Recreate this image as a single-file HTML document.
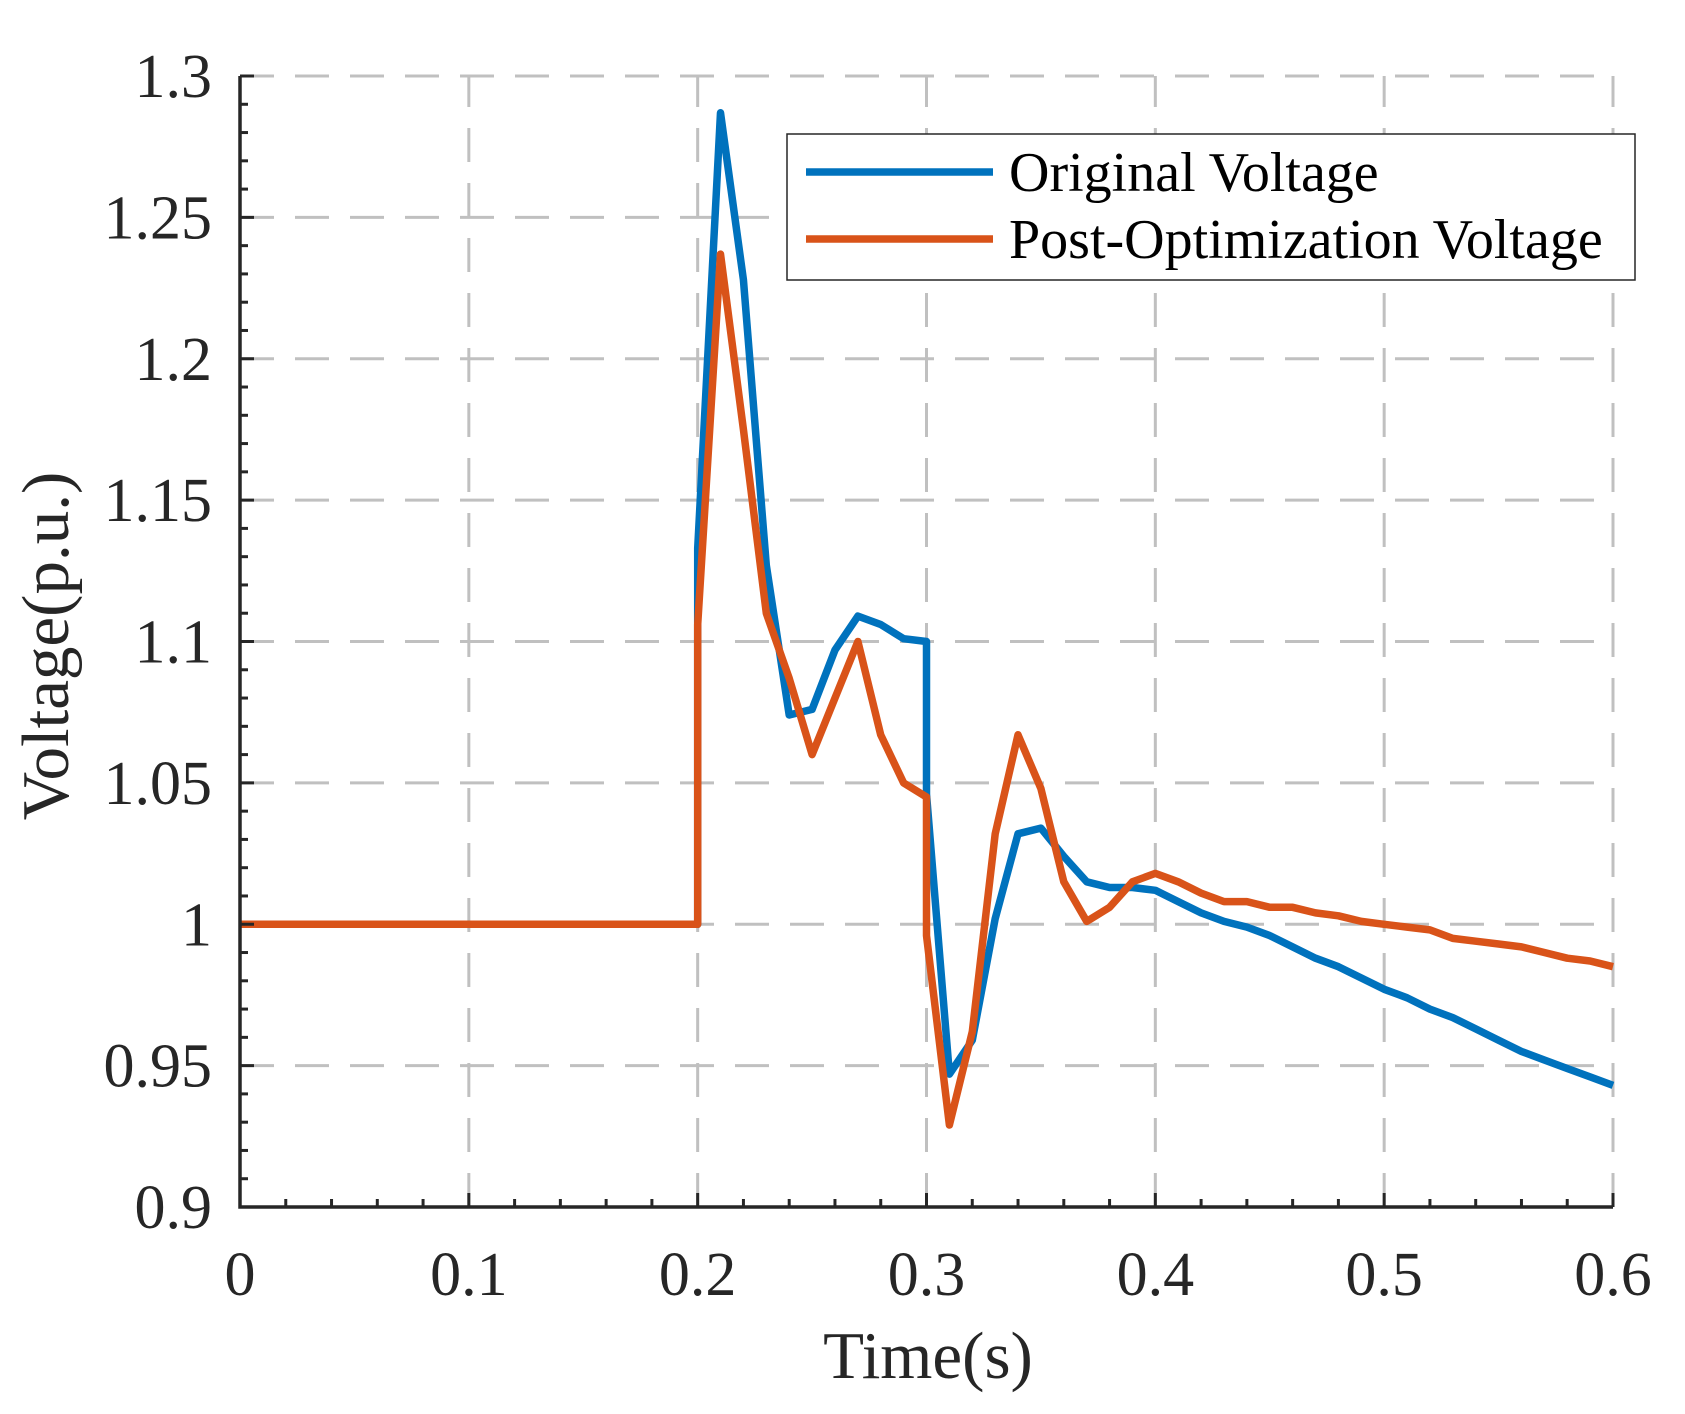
<!DOCTYPE html>
<html><head><meta charset="utf-8"><style>
html,body{margin:0;padding:0;background:#fff;}
svg{display:block;font-family:"Liberation Serif",serif;}
</style></head><body>
<svg id="chart" width="1685" height="1414" viewBox="0 0 1685 1414" xmlns="http://www.w3.org/2000/svg">
<g id="grid"></g>
<g id="series"></g>
<g id="axes"></g>
<text x="928" y="1378" font-size="67" text-anchor="middle" fill="#262626">Time(s)</text>
<text x="0" y="0" font-size="67" text-anchor="middle" fill="#262626" transform="translate(68,646) rotate(-90)">Voltage(p.u.)</text>
<g>
<rect x="787" y="134" width="848" height="146" fill="#fff" stroke="#262626" stroke-width="1.5"/>
<line x1="806" y1="172" x2="993" y2="172" stroke="#0072BD" stroke-width="7.5"/>
<text x="1009" y="191" font-size="56" fill="#000">Original Voltage</text>
<line x1="806" y1="239" x2="993" y2="239" stroke="#D95319" stroke-width="7.5"/>
<text x="1009" y="258" font-size="56" fill="#000">Post-Optimization Voltage</text>
</g>
</svg>
<script>
const xTicks=[0,0.1,0.2,0.3,0.4,0.5,0.6];
const xTickLabels=["0","0.1","0.2","0.3","0.4","0.5","0.6"];
const yTicks=[0.9,0.95,1,1.05,1.1,1.15,1.2,1.25,1.3];
const yTickLabels=["0.9","0.95","1","1.05","1.1","1.15","1.2","1.25","1.3"];
const originalTime=[0,0.2,0.2,0.21,0.22,0.23,0.24,0.25,0.26,0.27,0.28,0.29,0.30,0.30,0.31,0.32,0.33,0.34,0.35,0.36,0.37,0.38,0.39,0.40,0.41,0.42,0.43,0.44,0.45,0.46,0.47,0.48,0.49,0.50,0.51,0.52,0.53,0.54,0.55,0.56,0.57,0.58,0.59,0.60];
const originalVoltage=[1,1,1.133,1.287,1.228,1.127,1.074,1.076,1.097,1.109,1.106,1.101,1.100,1.046,0.947,0.959,1.002,1.032,1.034,1.024,1.015,1.013,1.013,1.012,1.008,1.004,1.001,0.999,0.996,0.992,0.988,0.985,0.981,0.977,0.974,0.970,0.967,0.963,0.959,0.955,0.952,0.949,0.946,0.943];
const optimizedTime=[0,0.2,0.2,0.21,0.22,0.23,0.24,0.25,0.26,0.27,0.28,0.29,0.30,0.30,0.31,0.32,0.33,0.34,0.35,0.36,0.37,0.38,0.39,0.40,0.41,0.42,0.43,0.44,0.45,0.46,0.47,0.48,0.49,0.50,0.51,0.52,0.53,0.54,0.55,0.56,0.57,0.58,0.59,0.60];
const optimizedVoltage=[1,1,1.106,1.237,1.175,1.110,1.087,1.060,1.080,1.100,1.067,1.050,1.045,0.996,0.929,0.962,1.032,1.067,1.048,1.015,1.001,1.006,1.015,1.018,1.015,1.011,1.008,1.008,1.006,1.006,1.004,1.003,1.001,1.000,0.999,0.998,0.995,0.994,0.993,0.992,0.990,0.988,0.987,0.985];

const L=240,R=1613,T=76,B=1207;
const X0=0,X1=0.6,Y0=0.9,Y1=1.3;
function sx(v){return L+(v-X0)/(X1-X0)*(R-L);}
function sy(v){return B-(v-Y0)/(Y1-Y0)*(B-T);}
const NS="http://www.w3.org/2000/svg";
function mk(tag,attrs,parent){const e=document.createElementNS(NS,tag);for(const k in attrs)e.setAttribute(k,attrs[k]);parent.appendChild(e);return e;}
const grid=document.getElementById('grid'),axes=document.getElementById('axes'),series=document.getElementById('series');
xTicks.forEach((t,i)=>{
  const g=mk('line',{x1:sx(t),x2:sx(t),y1:B,y2:T,stroke:'#c0c0c0','stroke-width':3,'stroke-dasharray':'34 21'},grid);
  
  
  const lb=mk('text',{x:sx(t),y:1295,'font-size':62,'text-anchor':'middle',fill:'#262626'},axes);
  lb.textContent=xTickLabels[i];
  
  
});
yTicks.forEach((t,i)=>{
  const g=mk('line',{x1:L,x2:R,y1:sy(t),y2:sy(t),stroke:'#c0c0c0','stroke-width':3,'stroke-dasharray':'34 21'},grid);
  
  
  const lb=mk('text',{x:212,y:sy(t)+21,'font-size':62,'text-anchor':'end',fill:'#262626'},axes);
  lb.textContent=yTickLabels[i];
  
  
});
for(let k=0;k<=30;k++){const v=X0+k*0.02;const len=(k%5===0)?14:8;
  const tk=mk('line',{x1:sx(v),x2:sx(v),y1:B,y2:B-len,stroke:'#262626','stroke-width':3},axes);
  
  }
for(let k=0;k<=40;k++){const v=Y0+k*0.01;const len=(k%5===0)?14:8;
  const tk=mk('line',{x1:L,x2:L+len,y1:sy(v),y2:sy(v),stroke:'#262626','stroke-width':3},axes);
  
  }
const ax=mk('path',{d:`M${L},${T} L${L},${B} L${R},${B}`,fill:'none',stroke:'#262626','stroke-width':3.5},axes);


function line(xs,ys,color,name){
  const d=xs.map((x,i)=>(i?'L':'M')+sx(x).toFixed(1)+','+sy(ys[i]).toFixed(1)).join(' ');
  const p=mk('path',{d:d,fill:'none',stroke:color,'stroke-width':7.5,'stroke-linejoin':'round'},series);
  
  
}
line(originalTime,originalVoltage,'#0072BD','original-voltage-line');
line(optimizedTime,optimizedVoltage,'#D95319','post-optimization-voltage-line');
</script>
</body></html>
